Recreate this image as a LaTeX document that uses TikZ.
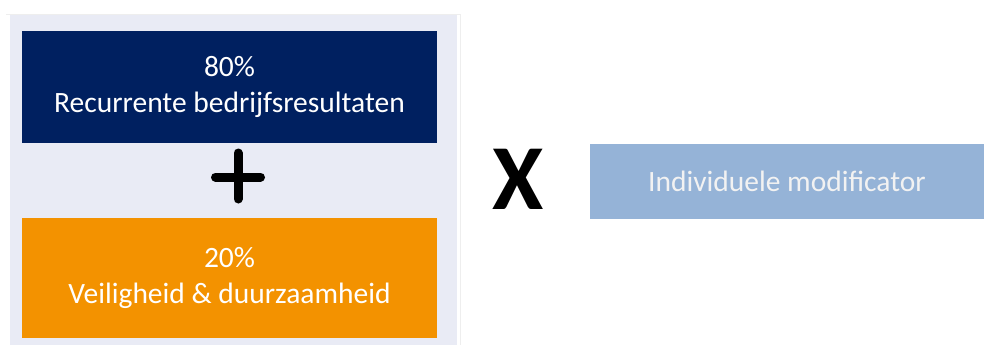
\documentclass[tikz,border=0pt]{standalone}
\usepackage{fontspec}
\setmainfont{Carlito}
\usetikzlibrary{calc}
\usetikzlibrary{positioning}
\definecolor{navyblue}{HTML}{002060}
\definecolor{safetyorange}{HTML}{F39200}
\definecolor{modblue}{HTML}{95B3D7}
\definecolor{panelgray}{HTML}{E9EBF5}
\definecolor{edgegray}{HTML}{EEEEEE}
\begin{document}
\begin{tikzpicture}
  [
  x=1pt, y=-1pt,
  % 線と文字の間の間隔を設定
  every node/.style={outer sep=0, inner sep=0},
  % 背景のパネル
  panel/.style={fill=panelgray},
  % ブロック
  block/.style={rectangle, minimum width=415pt, minimum height=112pt,
  text=white, align=center, font=\fontsize{29.5}{36}\selectfont},
  % 修正係数
  modbox/.style={rectangle, fill=modblue, minimum width=394pt,
  minimum height=75pt, text=white!95!black, font=\fontsize{29.5}{36}\selectfont},
  % 加算記号
  plusline/.style={line width=9pt, line cap=round},
  % 乗算記号
  times/.style={font=\fontsize{93}{100}\selectfont\bfseries}
  ]
  \useasboundingbox (0,0) rectangle (984,345);
  \fill [panel] (10,15) rectangle (457,345);
  \draw [edgegray, line width=0.8pt] (6,14) -- (460,14) -- (460,345);
  \node [block, fill=navyblue, anchor=north west] at (22,31) (result)
  {80\%\\Recurrente bedrijfsresultaten};
  \node [block, fill=safetyorange, minimum height=120pt, below=75pt of result]
  (safety) {20\%\\Veiligheid \& duurzaamheid};
  \coordinate (plus) at ($(result.south)+(8.5,34)$);
  \draw [plusline] ($(plus)+(-22.5,0)$) -- ($(plus)+(22.5,0)$);
  \draw [plusline] ($(plus)+(0,-24)$) -- ($(plus)+(0,22)$);
  \node [times] at (518,179) (mult) {X};
  \node [modbox, anchor=north east] at (984,144) (mod) {Individuele modificator};
\end{tikzpicture}
\end{document}
